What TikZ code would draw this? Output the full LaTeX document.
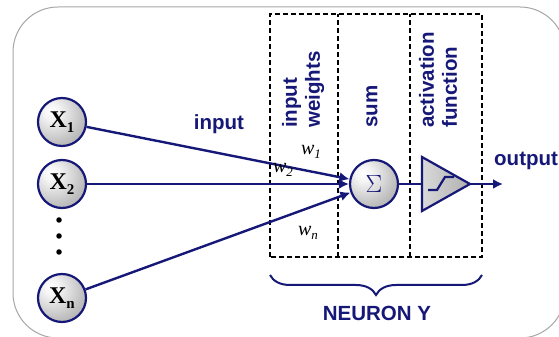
\documentclass[tikz,border=0pt]{standalone}
\usepackage{fontspec}
\setmainfont{Liberation Serif}
\setsansfont{Liberation Sans}
\usetikzlibrary{arrows.meta,decorations.pathreplacing}
\definecolor{navy}{RGB}{22,24,120}
\pgfdeclareradialshading{xball}{\pgfpoint{-12bp}{12bp}}{color(0bp)=(white); color(8bp)=(white!92!gray); color(30bp)=(gray!50); color(46bp)=(gray!72); color(100bp)=(gray!72)}
\tikzset{
  inp/.style={circle, draw=navy, line width=2.2pt, shading=xball, minimum size=48pt, inner sep=0pt},
  sumnode/.style={circle, draw=navy, line width=2.2pt, shading=xball, minimum size=48pt, inner sep=0pt},
  wire/.style={draw=navy, line width=2.4pt},
  arr/.style={wire, -{Latex[length=10pt,width=10pt]}},
  lbl/.style={text=navy, font=\sffamily\bfseries\fontsize{20.5}{23}\selectfont, inner sep=0pt},
  wlbl/.style={font=\itshape\fontsize{20}{20}\selectfont, inner sep=0pt},
  xlbl/.style={font=\bfseries\fontsize{24}{24}\selectfont},
  dashbox/.style={draw=black, line width=1.6pt, dash pattern=on 5pt off 3pt},
  dotnode/.style={circle, fill=black, minimum size=5.5pt, inner sep=0pt},
}
\newcommand{\xsub}[1]{\raisebox{-5pt}{\fontsize{15}{15}\selectfont #1}}
\newcommand{\wsub}[1]{\raisebox{-4pt}{\fontsize{13}{13}\selectfont #1}}
\begin{document}
\begin{tikzpicture}[x=1pt,y=1pt]
\useasboundingbox (0,0) rectangle (559,337);
\clip (0,0) rectangle (559,337);
% outer frame
\draw[gray!70, line width=1pt] (58,330) -- (520,330) arc[start angle=90, end angle=0, radius=45] -- (565,44) arc[start angle=0, end angle=-90, radius=45] -- (58,-1) arc[start angle=270, end angle=180, radius=45] -- (13,285) arc[start angle=180, end angle=90, radius=45] -- cycle;
% dashed neuron box
\draw[dashbox] (270,80) rectangle (482,323);
\draw[dashbox] (338,80) -- (338,323);
\draw[dashbox] (410,80) -- (410,323);
% column labels
\node[lbl, rotate=90, anchor=west, align=left] (iw) at (303,209) {input\\weights};
\node[lbl, rotate=90, anchor=west] (sm) at (372,209) {sum};
\node[lbl, rotate=90, anchor=west, align=left] (af) at (438,209) {activation\\function};
% inputs
\node[inp] (x1) at (62,215) {};
\node[xlbl] at (x1) {X\xsub{1}};
\node[inp] (x2) at (62,153) {};
\node[xlbl] at (x2) {X\xsub{2}};
\node[inp] (xn) at (62,39) {};
\node[xlbl] at (xn) {X\xsub{n}};
\node[dotnode] (d1) at (59,117) {};
\node[dotnode] (d2) at (59,101) {};
\node[dotnode] (d3) at (59,85) {};
% sum
\node[sumnode] (sum) at (374,153) {};
\node[text=navy, font=\fontsize{30}{30}\selectfont] at (sum) {$\Sigma$};
% activation triangle
\coordinate (tin) at (422,153);
\coordinate (tip) at (470,153);
\filldraw[draw=navy, line width=2.2pt, left color=gray!30, right color=gray!62, line join=miter] (422,180) -- (422,126) -- (tip) -- cycle;
\draw[wire, line width=2.2pt] (428,147) -- (437,147) -- (445,160) -- (454,160);
% connectors
\draw[arr] (x1) -- (sum);
\draw[arr] (x2) -- (sum);
\draw[arr] (xn) -- (sum);
\draw[wire] (sum) -- (tin);
\coordinate (oend) at (503,153);
\draw[arr] (tip) -- (oend);
% labels
\node[lbl] (inlab) at (219,213) {input};
\node[lbl, anchor=west] (outlab) at (494,176) {output};
\node[wlbl] (w1) at (311,185) {w\wsub{1}};
\node[wlbl] (w2) at (283,167) {w\wsub{2}};
\node[wlbl] (wn) at (308,104) {w\wsub{n}};
% brace
\coordinate (bl) at (270,62);
\coordinate (br) at (482,62);
\draw[navy, line width=2pt, decorate, decoration={brace, amplitude=20pt, mirror}] (bl) -- (br);
\node[lbl] (ny) at (377,24) {NEURON Y};
\end{tikzpicture}
\end{document}
